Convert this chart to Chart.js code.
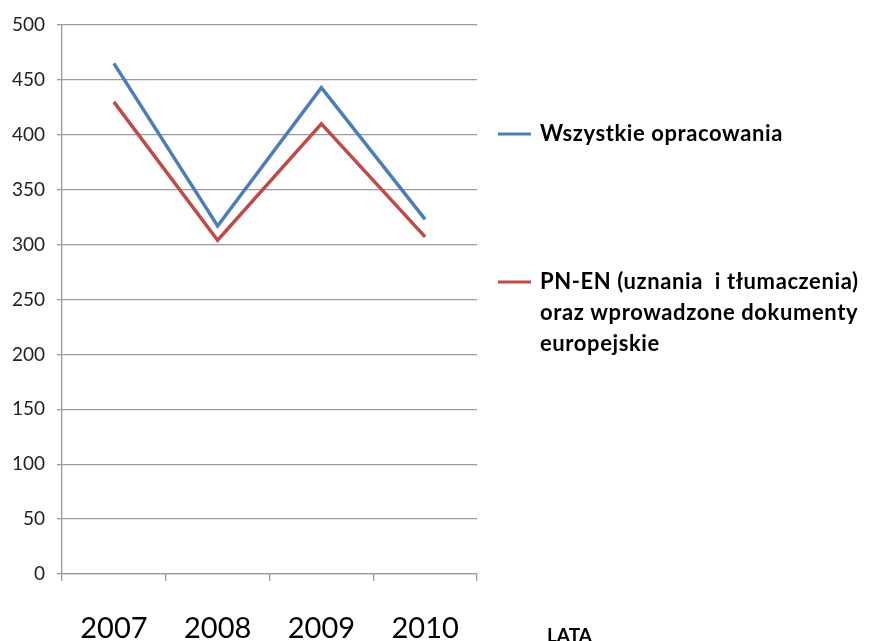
<!DOCTYPE html>
<html>
<head>
<meta charset="utf-8">
<script src="https://cdn.jsdelivr.net/npm/chart.js@4.4.1/dist/chart.umd.min.js"></script>
<style>
  html, body { margin:0; padding:0; background:#fff; }
  #wrap { width:873px; height:641px; position:relative; }
</style>
</head>
<body>
<div id="wrap"><canvas id="chart" width="873" height="641"></canvas></div>
<script>
// Lata i liczba opracowań
const years = ['2007', '2008', '2009', '2010'];
const allDocs = [465, 317, 443, 323];
const pnEnDocs = [430, 304, 410, 307];
const seriesNames = [
  ['Wszystkie opracowania'],
  ['PN-EN (uznania  i tłumaczenia)', 'oraz wprowadzone dokumenty', 'europejskie']
];
const yTicks = { min: 0, max: 500, step: 50 };

const FONT = 'Lato, "Open Sans", sans-serif';
const gridCol = '#9a9a9a';

// legend + axis title drawn on canvas, to the right of the plot
const sideLegend = {
  id: 'sideLegend',
  afterDraw(chart){
    const ctx = chart.ctx;
    const rows = [134, 282];
    ctx.save();
    chart.data.datasets.forEach((ds, i)=>{
      const y = rows[i];
      ctx.strokeStyle = ds.borderColor; ctx.lineWidth = 3;
      ctx.beginPath(); ctx.moveTo(498, y); ctx.lineTo(531, y); ctx.stroke();
      ctx.fillStyle = '#000';
      ctx.font = 'bold 22px ' + FONT;
      ctx.letterSpacing = '0.6px';
      ctx.textBaseline = 'middle';
      seriesNames[i].forEach((t, j)=> ctx.fillText(t, 540, y + j*31));
    });
    ctx.letterSpacing = '0px';
    ctx.font = 'bold 19px ' + FONT;
    ctx.textBaseline = 'alphabetic';
    ctx.fillText('LATA', 547, 642);
    ctx.restore();
  }
};

new Chart(document.getElementById('chart').getContext('2d'), {
  type: 'line',
  data: {
    labels: years,
    datasets: [
      { label: seriesNames[0].join(' '), data: allDocs, borderColor:'#4a7ebb', borderWidth:3.5, pointRadius:0, tension:0, fill:false },
      { label: seriesNames[1].join(' '), data: pnEnDocs, borderColor:'#be4b48', borderWidth:3.5, pointRadius:0, tension:0, fill:false }
    ]
  },
  options: {
    responsive: false,
    animation: false,
    layout: { padding: { top: 25, right: 396, left: 0, bottom: 0 } },
    plugins: { legend:{ display:false }, tooltip:{ enabled:false } },
    scales: {
      x: {
        offset: true,
        grid: { drawOnChartArea:false, tickLength:7, color:gridCol, lineWidth:1.3, offset:true },
        border: { color:gridCol, width:1.3 },
        ticks: { color:'#000', font:{ family:FONT, size:29 }, padding:30 },
        afterFit(s){ s.height = 67; }
      },
      y: {
        min: yTicks.min, max: yTicks.max,
        ticks: { stepSize: yTicks.step, color:'#222', font:{ family:FONT, size:19 }, padding:12 },
        grid: { color:gridCol, lineWidth:1.3, tickLength:5 },
        border: { color:gridCol, width:1.3 },
        afterFit(s){ s.width = 62; }
      }
    }
  },
  plugins: [sideLegend]
});
</script>
</body>
</html>
